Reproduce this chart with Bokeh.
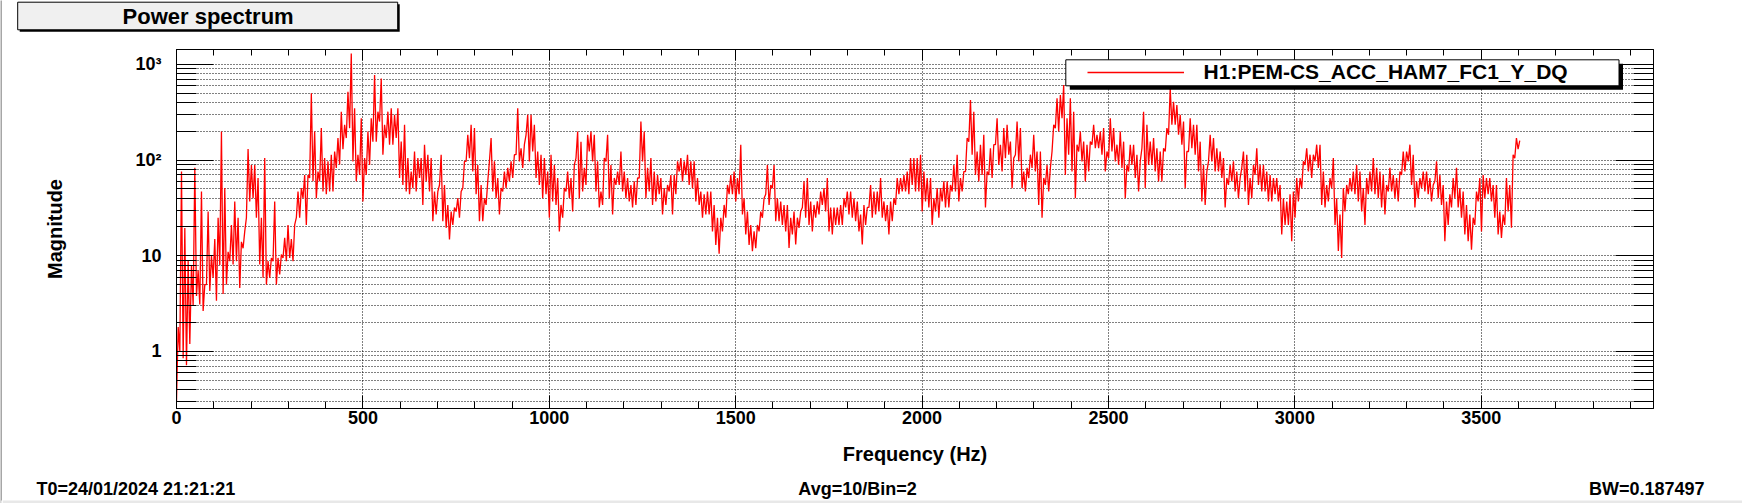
import numpy as np
from bokeh.plotting import figure
from bokeh.layouts import column, row
from bokeh.models import (Range1d, FixedTicker, LinearAxis, LogAxis, BoxAnnotation, Label,
                          Legend, LegendItem, CustomJSTickFormatter)
from bokeh.embed import file_html
from bokeh.resources import INLINE

# ---------------- texts ----------------
TITLE = "Power spectrum"
CHANNEL = "H1:PEM-CS_ACC_HAM7_FC1_Y_DQ"
X_LABEL = "Frequency (Hz)"
Y_LABEL = "Magnitude"
FOOT_LEFT = "T0=24/01/2024 21:21:21"
FOOT_MID = "Avg=10/Bin=2"
FOOT_RIGHT = "BW=0.187497"

# ---------------- data (min / max of the spectrum in each 8.93 Hz slice) ----------------
BIN_HZ = 8.93
low_0_1000 = [0.3, 1.0, 0.85, 0.72, 1.2, 3.0, 3.8, 3.1, 2.65, 5,
              4.3, 5.9, 3.4, 8, 4, 5, 8.8, 8.1, 8.8, 4.6,
              12, 25, 37, 40, 25, 8.1, 5.9, 5.0, 5.9, 8.8,
              5.0, 6.4, 9.5, 8.8, 9.5, 8.8, 25, 25, 40, 21,
              65, 60, 40, 60, 47, 44, 47, 47, 83, 90,
              130, 170, 216, 97, 60, 70, 37, 70, 89, 156,
              156, 253, 114, 170, 145, 145, 170, 65, 55, 47,
              44, 51, 47, 65, 34, 60, 47, 23, 27, 55,
              23, 19.6, 14.8, 21, 29, 25, 51, 97, 105, 76,
              44, 23, 23, 34, 97, 47, 40, 27, 47, 51,
              60, 65, 114, 97, 83, 184, 97, 123, 65, 55,
              40, 44]
high_0_1000 = [1.8, 76, 19.5, 8.8, 8, 83, 7, 47, 5, 29,
               10, 15, 25, 199, 51, 11, 21, 37, 25, 14,
               18, 131, 89, 89, 65, 25, 105, 8.8, 9.5, 37,
               9.5, 10.3, 15.4, 21, 15, 21, 47, 51, 70, 70,
               500, 199, 76, 216, 105, 97, 114, 123, 170, 321,
               234, 519, 1300, 348, 114, 274, 105, 199, 274, 774,
               321, 714, 234, 321, 348, 297, 348, 156, 234, 105,
               76, 123, 105, 105, 145, 114, 105, 47, 47, 114,
               55, 34, 29, 32, 40, 47, 97, 184, 234, 216,
               89, 55, 40, 60, 170, 97, 65, 51, 76, 83,
               97, 114, 348, 133, 145, 297, 297, 234, 123, 114,
               105, 76]
low_1000_2000 = [25, 37, 34, 18, 25, 47, 40, 29, 105, 40,
                 47, 55, 123, 97, 47, 32, 34, 97, 40, 27,
                 55, 55, 47, 40, 37, 32, 34, 65, 97, 40,
                 47, 34, 37, 44, 27, 34, 47, 27, 44, 76,
                 60, 70, 55, 51, 37, 34, 25, 27, 27, 18,
                 13, 10.5, 18, 25, 44, 44, 37, 44, 27, 16.7,
                 13, 11.2, 12, 18, 25, 44, 34, 51, 23, 23,
                 21, 18, 12.1, 16.7, 13.1, 19.6, 32, 25, 21, 18,
                 25, 27, 34, 29, 18, 16.7, 21, 21, 21, 32,
                 27, 25, 23, 18, 13.1, 21, 32, 25, 27, 29,
                 25, 23, 16.7, 23, 34, 44, 47, 47, 44, 55,
                 47, 47]
high_1000_2000 = [114, 89, 65, 34, 51, 76, 65, 89, 199, 156,
                  83, 184, 199, 184, 97, 47, 105, 184, 89, 65,
                  76, 123, 76, 65, 55, 60, 65, 253, 199, 83,
                  105, 76, 70, 65, 51, 55, 70, 70, 97, 105,
                  97, 114, 97, 97, 65, 47, 44, 47, 47, 34,
                  25, 25, 34, 55, 70, 76, 65, 145, 40, 29,
                  21, 18, 21, 29, 40, 89, 55, 89, 40, 37,
                  34, 34, 25, 29, 25, 29, 60, 65, 37, 34,
                  37, 47, 51, 65, 32, 32, 32, 34, 40, 47,
                  47, 40, 37, 27, 34, 32, 55, 47, 47, 65,
                  37, 34, 37, 40, 65, 65, 70, 76, 105, 105,
                  105, 114]
low_2000_3000 = [29, 37, 32, 21, 29, 25, 37, 32, 32, 47,
                 47, 37, 47, 76, 156, 114, 70, 60, 70, 32,
                 70, 65, 145, 89, 76, 105, 114, 51, 114, 97,
                 51, 47, 65, 83, 76, 34, 25, 55, 47, 123,
                 216, 199, 274, 70, 114, 76, 40, 123, 97, 60,
                 76, 145, 133, 133, 114, 76, 105, 123, 97, 89,
                 83, 40, 76, 89, 65, 47, 133, 51, 89, 89,
                 76, 60, 60, 123, 184, 234, 234, 184, 145, 51,
                 123, 133, 114, 76, 37, 34, 97, 97, 76, 76,
                 65, 32, 55, 60, 47, 40, 83, 47, 34, 40,
                 70, 55, 47, 47, 37, 37, 44, 37, 16.7, 21,
                 21, 14.2]
high_2000_3000 = [76, 65, 65, 40, 51, 51, 60, 60, 55, 89,
                  114, 65, 76, 170, 425, 321, 123, 145, 184, 76,
                  133, 145, 274, 145, 216, 234, 156, 105, 253, 216,
                  76, 83, 114, 184, 123, 123, 65, 89, 83, 234,
                  443, 479, 609, 274, 443, 321, 145, 199, 156, 145,
                  156, 234, 184, 199, 216, 123, 274, 216, 145, 199,
                  156, 89, 145, 145, 114, 97, 321, 234, 156, 170,
                  133, 123, 133, 216, 562, 408, 377, 297, 253, 123,
                  274, 234, 234, 156, 89, 76, 184, 170, 133, 123,
                  105, 65, 89, 97, 76, 65, 123, 114, 65, 89,
                  133, 89, 89, 76, 70, 65, 65, 55, 40, 37,
                  44, 47]
low_3000_3600 = [25, 37, 51, 89, 76, 65, 97, 83, 34, 32,
                 37, 51, 21, 11.2, 9.5, 29, 44, 47, 44, 37,
                 29, 21, 44, 47, 44, 40, 32, 27, 47, 47,
                 40, 37, 70, 76, 97, 55, 32, 40, 51, 47,
                 44, 37, 60, 40, 34, 14.2, 21, 32, 40, 32,
                 25, 16.7, 14.2, 11.6, 21, 37, 18, 40, 44, 37,
                 25, 16.7, 15.4, 21, 29, 19.6, 105, 130]
high_3000_3600 = [65, 65, 97, 133, 114, 114, 145, 145, 76, 55,
                  65, 105, 40, 27, 51, 55, 65, 76, 89, 76,
                  51, 65, 76, 105, 83, 76, 70, 55, 83, 70,
                  65, 76, 123, 123, 145, 114, 60, 65, 76, 76,
                  65, 55, 97, 70, 55, 37, 44, 65, 83, 51,
                  47, 34, 27, 25, 47, 65, 70, 65, 65, 55,
                  55, 29, 27, 65, 55, 114, 170, 160]

# ---------------- axes ----------------
X_MIN, X_MAX = 0, 3962
Y_MIN, Y_MAX = 0.2535, 1433
x_major = [0, 500, 1000, 1500, 2000, 2500, 3000, 3500]
x_minor = list(range(0, 4000, 100))
y_major = [1, 10, 100, 1000]
y_minor = [0.3, 0.4, 0.5, 0.6, 0.7, 0.8, 0.9,
           2, 3, 4, 5, 6, 7, 8, 9,
           20, 30, 40, 50, 60, 70, 80, 90,
           200, 300, 400, 500, 600, 700, 800, 900]
y_tick_text = {1: "1", 10: "10", 100: "10\u00b2", 1000: "10\u00b3"}

low = np.array(low_0_1000 + low_1000_2000 + low_2000_3000 + low_3000_3600, dtype=float)
high = np.array(high_0_1000 + high_1000_2000 + high_2000_3000 + high_3000_3600, dtype=float)
n = len(low)
freq = np.empty(2 * n)
mag = np.empty(2 * n)
freq[0::2] = np.arange(n) * BIN_HZ
freq[1::2] = np.arange(n) * BIN_HZ + BIN_HZ / 2
mag[0::2] = low
mag[1::2] = high

# ---------------- layout (page pixels) ----------------
PAGE_W, PAGE_H = 1742, 503
OX = 2                                   # width of the grey strip at the left edge
W = PAGE_W - OX
HEAD_H, MAIN_H, FOOT_H = 44, 426, 33
FL, FR, FT, FB = 176, 1653, 49, 408      # frame edges in page pixels
FONT = "Liberation Sans"
EDGE_GREY = "#a6a6a6"
BAND_GREY = "#e8e8e8"


def no_align(f):
    try:
        f.frame_align = False
    except Exception:
        pass
    return f


def blank_fig(w, h, bg="white"):
    f = figure(width=w, height=h, output_backend="svg", toolbar_location=None,
               x_range=Range1d(0, 1), y_range=Range1d(0, 1),
               x_axis_location=None, y_axis_location=None, min_border=0)
    f.grid.visible = False
    f.outline_line_color = None
    f.background_fill_color = bg
    f.border_fill_color = bg
    return no_align(f)


def sbox(l, r, t, b, fill, line=None):
    return BoxAnnotation(left=l, right=r, top=t, bottom=b,
                         left_units="screen", right_units="screen",
                         top_units="screen", bottom_units="screen",
                         fill_color=fill, fill_alpha=1,
                         line_color=line, line_alpha=1 if line else 0, line_width=1)


# ---- grey strip at the left page edge ----
edge = blank_fig(OX, PAGE_H, EDGE_GREY)
edge.add_layout(sbox(0, OX, PAGE_H - 500, 0, BAND_GREY))

# ---- header: title box ----
head = blank_fig(W, HEAD_H)


def hx(px):
    return px - OX


def hy(py):
    return HEAD_H - py


head.add_layout(sbox(hx(19.2), hx(399.2), hy(3.7), hy(31.3), "black"))
head.add_layout(sbox(hx(17.2), hx(397.2), hy(1.7), hy(29.3), "#f0f0f0", "black"))
head.add_layout(Label(x=hx(207.6), y=hy(15.5), x_units="screen", y_units="screen", text=TITLE,
                      text_font=FONT, text_font_style="bold", text_font_size="22px",
                      text_align="center", text_baseline="middle", text_color="black"))

# ---- main plot ----
p = figure(width=W, height=MAIN_H, output_backend="svg", toolbar_location=None,
           x_range=Range1d(X_MIN, X_MAX), y_range=Range1d(Y_MIN, Y_MAX),
           y_axis_type="log",
           min_border_left=FL - OX, min_border_right=PAGE_W - FR,
           min_border_top=FT - HEAD_H, min_border_bottom=HEAD_H + MAIN_H - FB)
no_align(p)
p.background_fill_color = "white"
p.border_fill_color = "white"
p.outline_line_color = "black"
p.outline_line_width = 1

blank = CustomJSTickFormatter(code="return ''")


def style_axis(ax, maj_in, min_in):
    ax.axis_line_color = "black"
    ax.axis_line_width = 1
    ax.major_tick_line_color = "black"
    ax.minor_tick_line_color = "black"
    ax.major_tick_line_width = 1
    ax.minor_tick_line_width = 1
    ax.major_tick_in = maj_in
    ax.major_tick_out = 0
    ax.minor_tick_in = min_in
    ax.minor_tick_out = 0
    ax.major_label_text_font = FONT
    ax.major_label_text_font_style = "bold"
    ax.major_label_text_font_size = "18px"
    ax.major_label_text_color = "black"
    ax.axis_label_text_font = FONT
    ax.axis_label_text_font_style = "bold"
    ax.axis_label_text_font_size = "20px"
    ax.axis_label_text_color = "black"


xb = p.below[0]
xb.ticker = FixedTicker(ticks=x_major, minor_ticks=x_minor)
style_axis(xb, 13, 7)
xb.major_label_standoff = 2
xb.axis_label = X_LABEL
xb.axis_label_standoff = 16

yl = p.left[0]
yl.ticker = FixedTicker(ticks=y_major, minor_ticks=y_minor)
yl.major_label_overrides = y_tick_text
style_axis(yl, 37, 20)
yl.major_label_standoff = 15
yl.axis_label = Y_LABEL
yl.axis_label_standoff = 66

xt = LinearAxis(ticker=FixedTicker(ticks=x_major, minor_ticks=x_minor), formatter=blank)
style_axis(xt, 11, 6)
xt.major_label_text_font_size = "0px"
xt.major_label_standoff = 0
p.add_layout(xt, "above")

yr = LogAxis(ticker=FixedTicker(ticks=y_major, minor_ticks=y_minor), formatter=blank)
style_axis(yr, 38, 20)
yr.major_label_text_font_size = "0px"
yr.major_label_standoff = 0
p.add_layout(yr, "right")

for g in (p.xgrid[0], p.ygrid[0]):
    g.grid_line_color = "black"
    g.grid_line_alpha = 1
    g.grid_line_width = 1
    g.grid_line_dash = "1 2"
p.ygrid[0].minor_grid_line_color = "black"
p.ygrid[0].minor_grid_line_alpha = 1
p.ygrid[0].minor_grid_line_dash = "1 2"

r = p.line(freq, mag, line_color="#ff0000", line_width=1.3)


# page pixel -> frame-relative screen units of the main plot
def sx(px):
    return px - FL


def sy(py):
    return FB - py


# legend box with shadow, then the legend itself
p.add_layout(sbox(sx(1069.3), sx(1622.5), sy(63.3), sy(89.3), "black"))
p.add_layout(sbox(sx(1065.3), sx(1618.5), sy(59.3), sy(85.3), "white", "black"))
legend = Legend(items=[LegendItem(label=CHANNEL, renderers=[r])],
                location=(sx(1086.6), sy(85)), padding=0, margin=0, spacing=0,
                glyph_width=97, glyph_height=26, label_height=26, label_standoff=20,
                background_fill_alpha=0, border_line_alpha=0,
                label_text_font=FONT, label_text_font_style="bold",
                label_text_font_size="21px", label_text_color="black")
p.add_layout(legend)

# ---- footer ----
foot = blank_fig(W, FOOT_H)


def fy(py):
    return HEAD_H + MAIN_H + FOOT_H - py


foot.add_layout(sbox(0, W, fy(500), fy(PAGE_H), BAND_GREY))
for txt, x, align in ((FOOT_LEFT, 36, "left"), (FOOT_MID, 857, "center"), (FOOT_RIGHT, 1704, "right")):
    foot.add_layout(Label(x=hx(x), y=fy(488), x_units="screen", y_units="screen", text=txt,
                          text_font=FONT, text_font_style="bold", text_font_size="18px",
                          text_align=align, text_baseline="middle", text_color="black"))

page = row(edge, column(head, p, foot, spacing=0), spacing=0)
open("out.html", "w").write(file_html(page, INLINE))
